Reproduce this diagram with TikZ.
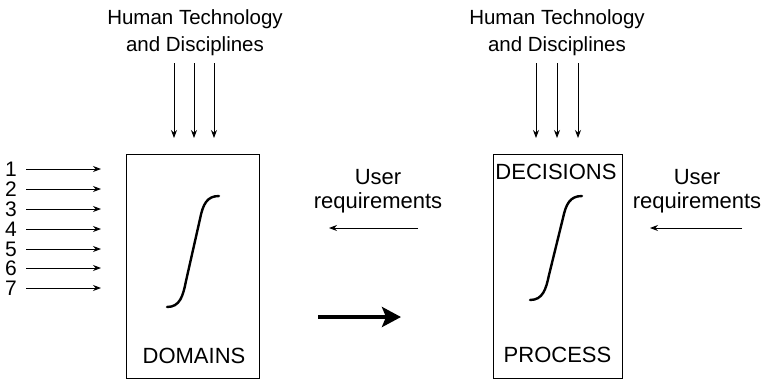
\documentclass[tikz,border=0pt]{standalone}
\usepackage{fontspec}
\setmainfont{Liberation Sans}
\usetikzlibrary{arrows.meta}

\tikzset{
  head/.style={inner sep=0pt, font=\fontsize{20.5}{27}\selectfont, align=center},
  lbl/.style={inner sep=0pt, font=\fontsize{22}{24}\selectfont, align=center},
  num/.style={inner sep=0pt, font=\fontsize{21}{21}\selectfont},
  panel/.style={draw, line width=1pt, inner sep=0pt},
  thin arrow/.style={line width=0.9pt, -{Stealth[length=8pt,width=6pt]}},
  bold arrow/.style={line width=4pt, -{Stealth[length=19pt,width=20pt,inset=4pt]}},
  scurve/.style={line width=2.4pt, line cap=round}
}

\begin{document}
\begin{tikzpicture}[x=1pt, y=-1pt]
\useasboundingbox (0,0) rectangle (764,381);

% the two panels
\node[panel, minimum width=133pt, minimum height=224pt] (domains) at (192.5,266) {};
\node[panel, minimum width=129pt, minimum height=224pt] (process) at (557.5,266) {};

% panel labels
\node[lbl] (domlbl) at (194,356) {DOMAINS};
\node[lbl] (declbl) at (556,172) {DECISIONS};
\node[lbl] (proclbl) at (557.5,355) {PROCESS};

% growth curves inside the panels
\draw[scurve] (167,307) .. controls (180,307) and (183,296) .. (186,281)
  -- (200,219) .. controls (203,204) and (207,196) .. (219,196);
\draw[scurve] (530,300) .. controls (543,300) and (546,289) .. (549,275)
  -- (563,218) .. controls (566,204) and (570,196) .. (582,196);

% human technology inputs
\node[head] (htl) at (195,33) {Human Technology\\and Disciplines};
\node[head] (htr) at (557,33) {Human Technology\\and Disciplines};
\foreach \x [count=\i] in {174,194,214}{
  \coordinate (tl\i) at (\x,63);
  \coordinate (tlh\i) at (\x,138);
  \draw[thin arrow] (tl\i) -- (tlh\i);
}
\foreach \x [count=\i] in {536,557,578}{
  \coordinate (tr\i) at (\x,63);
  \coordinate (trh\i) at (\x,138);
  \draw[thin arrow] (tr\i) -- (trh\i);
}

% numbered inputs
\foreach \y [count=\i] in {169,189,209,229,249,268,288}{
  \node[num] (n\i) at (11,\y) {\i};
  \coordinate (ns\i) at (26,\y);
  \coordinate (ne\i) at (101,\y);
  \draw[thin arrow] (ns\i) -- (ne\i);
}

% user requirements
\node[lbl] (urm) at (378,191) {User\\requirements};
\coordinate (urms) at (418,228);
\coordinate (urme) at (329,228);
\draw[thin arrow] (urms) -- (urme);

\node[lbl] (urr) at (697,191) {User\\requirements};
\coordinate (urrs) at (742,228);
\coordinate (urre) at (650,228);
\draw[thin arrow] (urrs) -- (urre);

% transition between the panels
\coordinate (ta) at (318,317);
\coordinate (tb) at (401,317);
\draw[bold arrow] (ta) -- (tb);
\end{tikzpicture}
\end{document}
